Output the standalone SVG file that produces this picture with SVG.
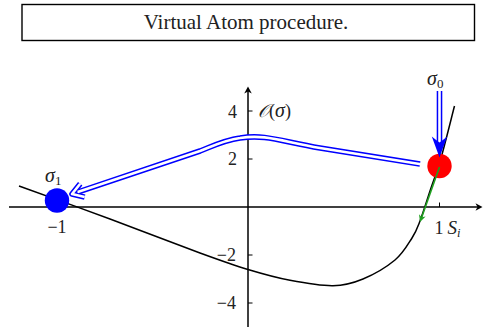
<svg xmlns="http://www.w3.org/2000/svg" width="483" height="329" viewBox="0 0 483 329">
<style>
.t{font-family:"Liberation Serif","DejaVu Serif",serif;fill:#222}
.tick{font-size:18px;text-anchor:end}
.ax{stroke:#000;stroke-width:1.5;fill:none}
.dbl-o{stroke:#0000ff;stroke-width:5.6;fill:none;stroke-linejoin:round}
.dbl-i{stroke:#fff;stroke-width:2.6;fill:none;stroke-linejoin:round}
</style>
<rect width="483" height="329" fill="#fff"/>
<g id="title">
<rect x="22" y="4.5" width="452.5" height="36" fill="#fff" stroke="#000" stroke-width="1.4"/>
<text class="t" x="246" y="28.5" font-size="21" text-anchor="middle">Virtual Atom procedure.</text>
</g>
<g id="axes">
<line class="ax" x1="9" y1="207" x2="478" y2="207"/>
<polygon points="482.5,207 475.5,203.2 477.5,207 475.5,210.8" fill="#000"/>
<line class="ax" x1="248" y1="327" x2="248" y2="91"/>
<polygon points="248,86.5 244.2,93.5 248,91.5 251.8,93.5" fill="#000"/>
<g stroke="#000" stroke-width="1">
<line x1="248" y1="111" x2="252.5" y2="111"/>
<line x1="248" y1="159" x2="252.5" y2="159"/>
<line x1="248" y1="255" x2="252.5" y2="255"/>
<line x1="248" y1="303" x2="252.5" y2="303"/>
<line x1="439.5" y1="207" x2="439.5" y2="202.5"/>
<line x1="57" y1="207" x2="57" y2="202.5"/>
</g>
<text class="t tick" x="237" y="117.5">4</text>
<text class="t tick" x="237" y="165">2</text>
<text class="t tick" x="236" y="261">−2</text>
<text class="t tick" x="236" y="309">−4</text>
<text class="t" x="57" y="233" font-size="18" text-anchor="middle">−1</text>
<text class="t" x="434.5" y="233.5" font-size="18">1</text>
<text class="t" x="447.5" y="233.5" font-size="19" font-style="italic">S<tspan font-size="12.5" dy="3.5">i</tspan></text>
<text class="t" x="258" y="117" font-size="18"><tspan font-style="italic">𝒪</tspan>(<tspan font-style="italic" font-size="20">σ</tspan>)</text>
</g>
<g id="curve">
<path fill="none" stroke="#000" stroke-width="1.5" stroke-linejoin="round" d="M19,186 C34.2,191.5 79.8,207.8 110,219 C140.2,230.2 177,244.6 200,253 C223,261.4 233,265 248,269.5 C263,274 275.8,277.6 290,280.3 C304.2,283 320.8,285.9 333,285.7 C345.2,285.5 352.7,283.3 363,279 C373.3,274.7 386.8,266.8 395,260 C403.2,253.2 407.8,244.5 412,238 C416.2,231.5 416.9,229.1 420,221 C423.1,212.9 427,200 430.5,189.5 C434,179 437,171.9 441,158 C445,144.1 452.2,114.7 454.5,106"/>
</g>
<g id="sigma1">
<circle cx="57" cy="200.5" r="12.2" fill="#0000ff"/>
<text class="t" x="45" y="182" font-size="20" font-style="italic">σ<tspan font-style="normal" font-size="13" dy="2.5">1</tspan></text>
</g>
<g id="sigma0">
<circle cx="439.5" cy="166" r="12.2" fill="#ff0000"/>
<text class="t" x="427" y="85" font-size="20" font-style="italic">σ<tspan font-style="normal" font-size="13" dy="3">0</tspan></text>
</g>
<g id="connectors">
<g id="move-arrow">
<path class="dbl-o" d="M420,164 L320,148 C280,141 265,134 240,138 C225,140 215,145 200,151 L77.7,192.1"/>
<path class="dbl-o" d="M80.2,183.8 L72,194 L84.7,197.1"/>
<path class="dbl-i" d="M421,164.2 L320,148 C280,141 265,134 240,138 C225,140 215,145 200,151 L77.7,192.1"/>
<path class="dbl-i" d="M80.2,183.8 L72,194 L84.7,197.1"/>
</g>
<g id="init-arrow">
<line class="dbl-o" x1="439.5" y1="91" x2="439.5" y2="142"/>
<line class="dbl-i" x1="439.5" y1="90" x2="439.5" y2="142"/>
<path d="M439.5,157.5 L431.8,136.5 Q436,140 439.5,142.5 Q443,140 447.2,136.5 Z" fill="#0000ff"/>
</g>
<g id="gradient-arrow">
<line x1="439.5" y1="167" x2="421.7" y2="217.3" stroke="#1fa01f" stroke-width="1.6"/>
<polygon points="420,222 425.6,216.6 421.7,217.3 419,214.2" fill="#1fa01f"/>
</g>
</g>
</svg>
